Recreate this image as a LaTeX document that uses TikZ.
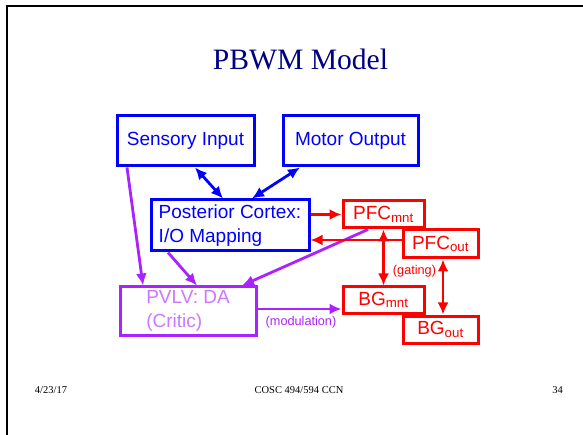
\documentclass[tikz,border=0pt]{standalone}
\usepackage{fontspec}
\setmainfont{Liberation Serif}
\setsansfont{Liberation Sans}
\usetikzlibrary{arrows.meta}
\definecolor{vio}{HTML}{AA22FF}
\definecolor{vtext}{HTML}{CC77FF}
\definecolor{navy}{HTML}{000080}
\begin{document}
\begin{tikzpicture}[x=1pt,y=-1pt,
  box/.style={draw, line width=3pt, rectangle, inner sep=0pt, fill=white,
    font=\sffamily\fontsize{19}{24}\selectfont, align=left},
  bluebox/.style={box, draw=blue, text=blue},
  redbox/.style={box, draw=red, text=red},
  viobox/.style={box, draw=vio, text=vtext},
  conn/.style={line width=2.8pt, -{Latex[length=12pt,width=11pt]}},
  bconn/.style={line width=2.8pt, {Latex[length=12pt,width=11pt]}-{Latex[length=12pt,width=11pt]}},
  small/.style={font=\sffamily\fontsize{12.7}{15}\selectfont},
  foot/.style={font=\fontsize{10.5}{12}\selectfont, anchor=base}]
\useasboundingbox (0,0) rectangle (583,435);
\draw[line width=2.2pt] (7,435) -- (7,6) -- (583,6);

\node[text=navy, font=\fontsize{29.6}{34}\selectfont, anchor=base] (title) at (300.5,70) {PBWM Model};

\node[bluebox, minimum width=137, minimum height=50] (si) at (185.5,141) {Sensory Input};
\node[bluebox, minimum width=135, minimum height=50] (mo) at (350.5,141) {Motor Output};
\node[bluebox, minimum width=158, minimum height=51] (pc) at (230,225.5) {Posterior Cortex:\\I/O Mapping};
\node[redbox, minimum width=81, minimum height=27, align=center] (pfcm) at (383.5,214.5) {PFC\textsubscript{mnt}};
\node[redbox, minimum width=75, minimum height=28, align=center] (pfco) at (440.5,244) {PFC\textsubscript{out}};
\node[redbox, minimum width=81, minimum height=26, align=center] (bgm) at (383.5,300) {BG\textsubscript{mnt}};
\node[redbox, minimum width=75, minimum height=27, align=center] (bgo) at (440.5,329.5) {BG\textsubscript{out}};
\node[viobox, minimum width=136, minimum height=48] (pvlv) at (188,311) {PVLV: DA\\(Critic)};

% blue connectors
\draw[bconn, blue] ([xshift=9.5]si.south) -- ([xshift=-7]pc.north);
\draw[bconn, blue] ([xshift=-50.5]mo.south) -- ([xshift=22]pc.north);

% violet connectors
\draw[conn, vio] ([xshift=-58.5]si.south) -- ([xshift=-45]pvlv.north);
\draw[conn, vio] ([xshift=-62]pc.south) -- ([xshift=9]pvlv.north);
\draw[conn, vio] ([xshift=-15.5]pfcm.south) -- ([xshift=54]pvlv.north);
\coordinate (m1) at ([yshift=2]pvlv.east);
\draw[conn, vio] (m1) -- (m1 -| bgm.west);

% red connectors
\draw[conn, red] (pc.east |- pfcm.west) -- (pfcm.west);
\coordinate (o1) at ([yshift=4]pfco.west);
\draw[conn, red] (o1) -- (o1 -| pc.east);
\draw[bconn, red] (pfcm.south) -- (bgm.north);
\draw[bconn, red] ([xshift=2.5]pfco.south) -- ([xshift=2.5]bgo.north);

\node[small, text=red] (gating) at (414.5,271) {(gating)};
\node[small, text=vio] (modl) at (301,322) {(modulation)};

\node[foot] (date) at (51,393) {4/23/17};
\node[foot] (course) at (299,393) {COSC 494/594 CCN};
\node[foot] (page) at (557.5,393) {34};
\end{tikzpicture}
\end{document}
